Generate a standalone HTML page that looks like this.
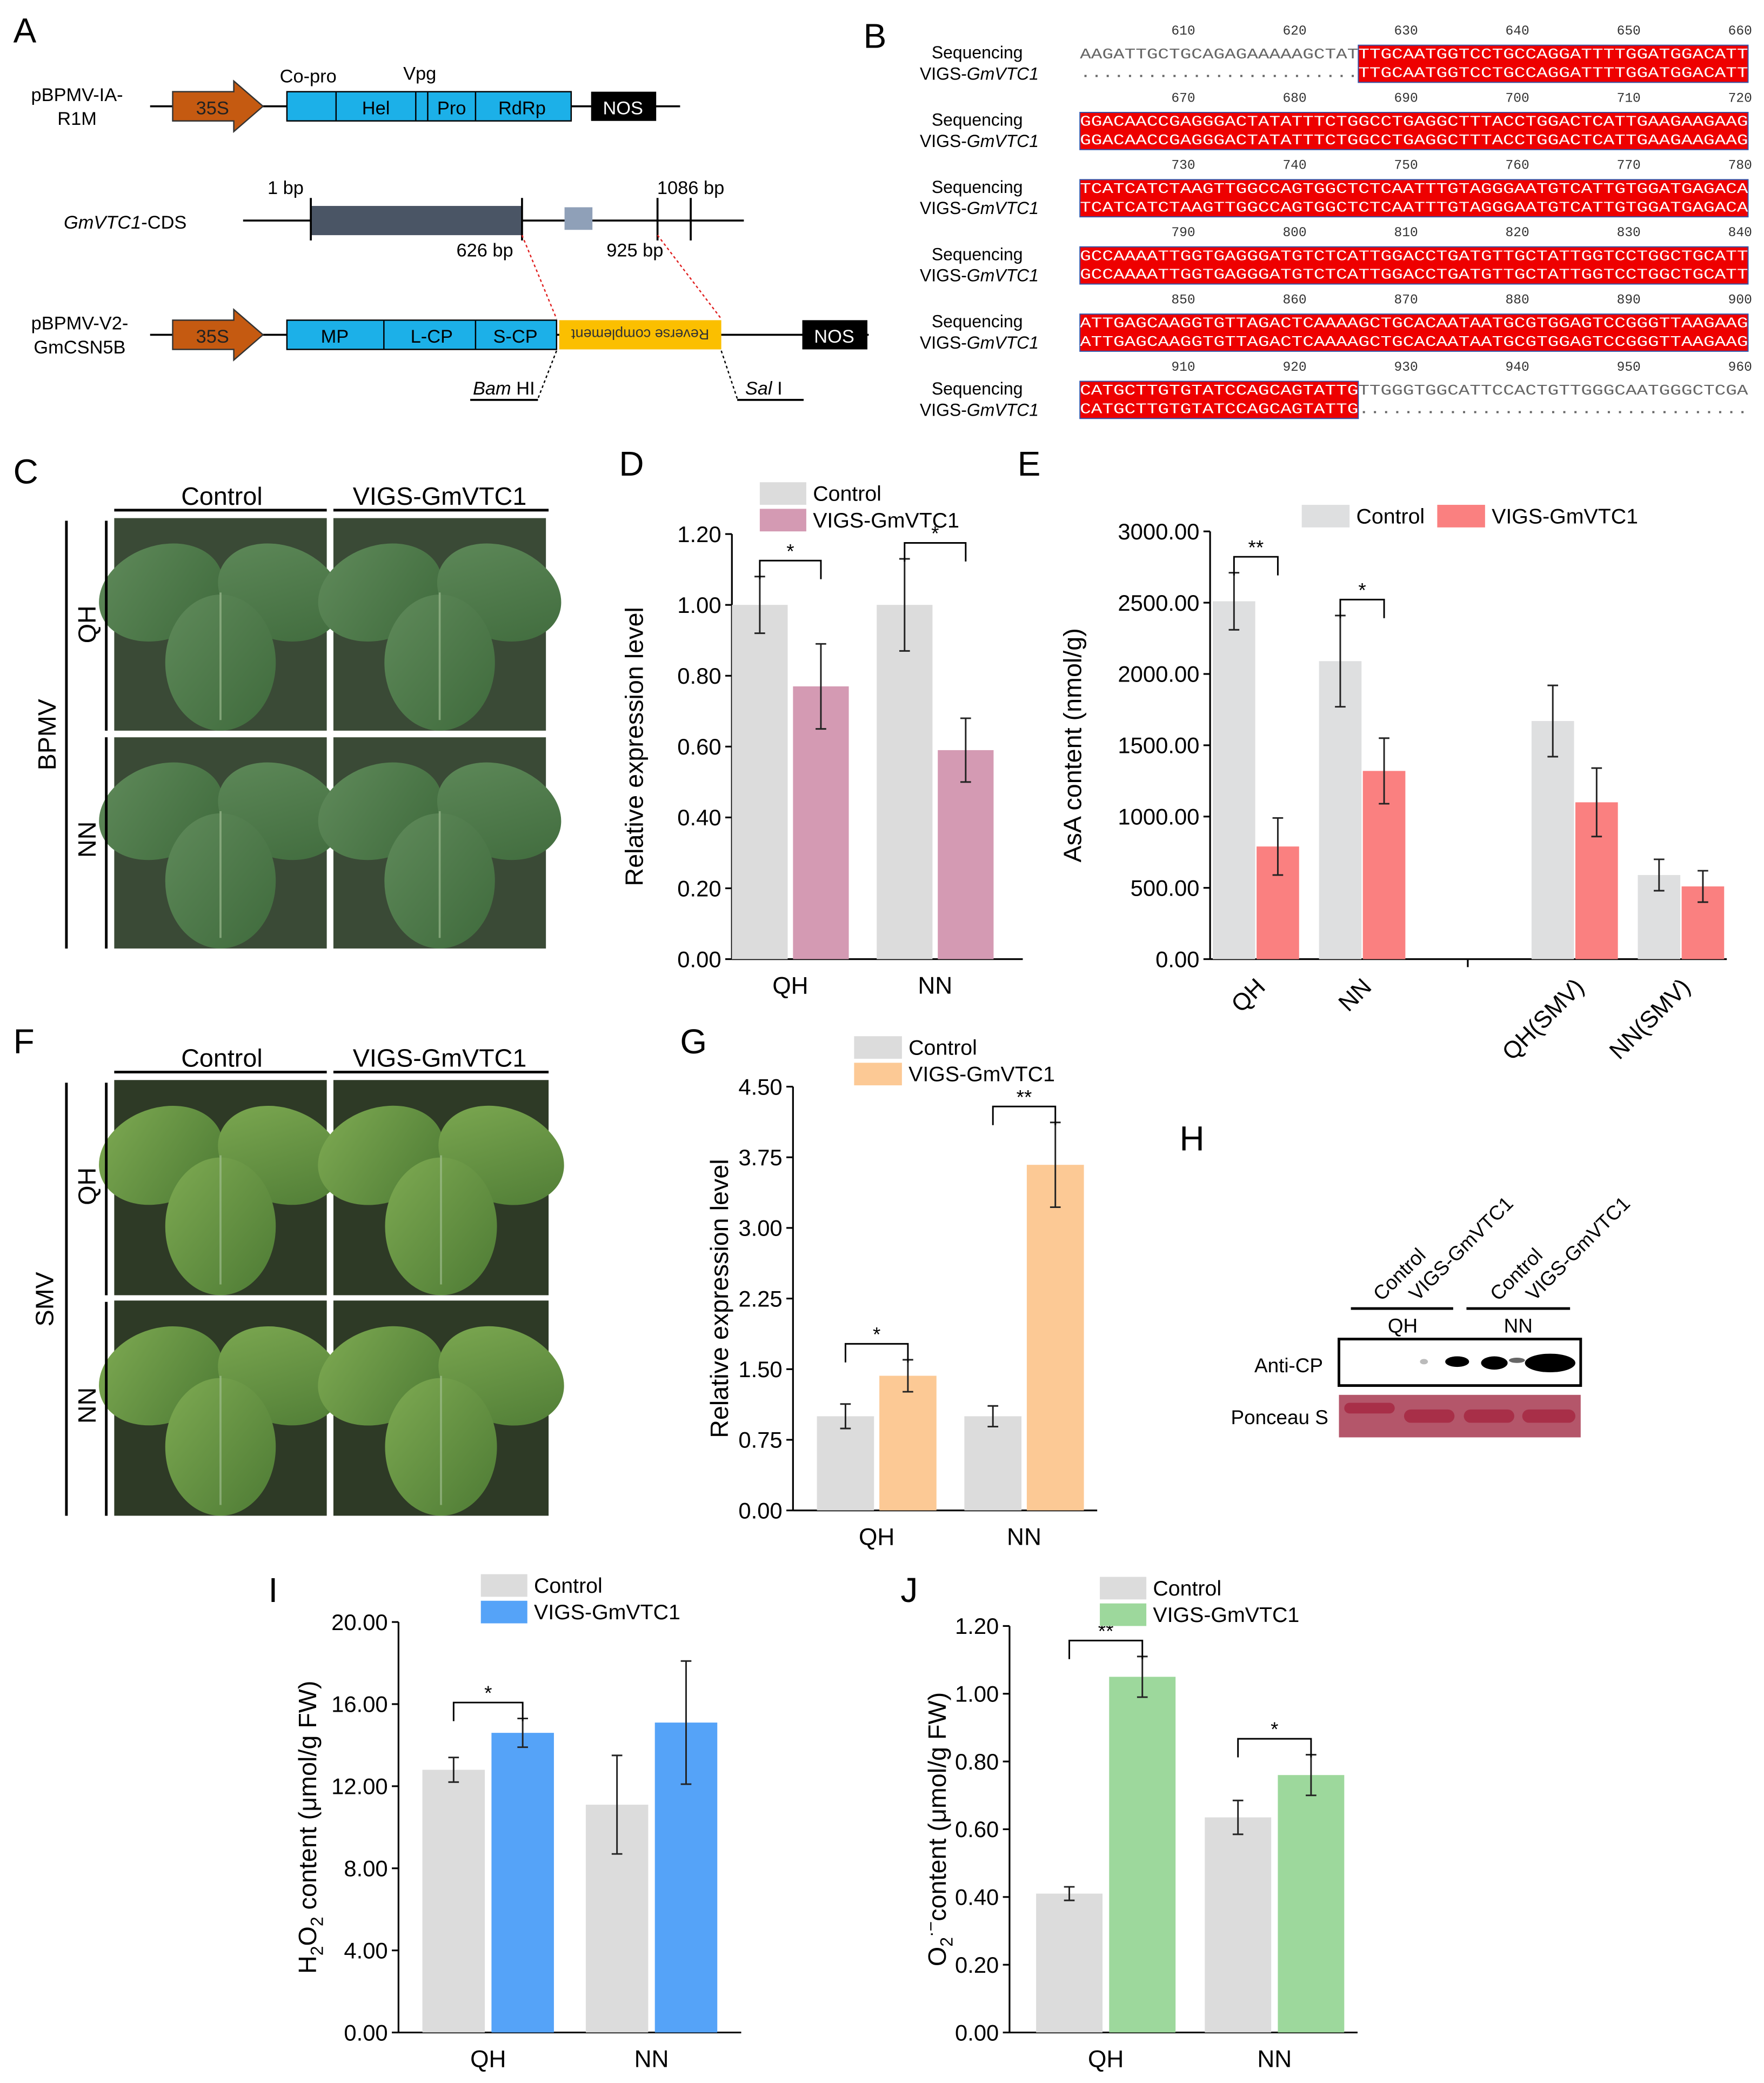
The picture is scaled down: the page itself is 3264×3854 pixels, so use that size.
<!DOCTYPE html>
<html><head><meta charset="utf-8"><style>
html,body{margin:0;padding:0;background:#fff}
svg{display:block;font-family:"Liberation Sans",sans-serif}
.mono{font-family:"Liberation Mono",monospace}
</style></head><body>
<svg id="fig" width="3264" height="3854" viewBox="0 0 1328 1568" xmlns="http://www.w3.org/2000/svg">
<rect width="1328" height="1568" fill="#fff"/>
<defs>
<linearGradient id="leafA" x1="0" y1="0" x2="1" y2="1"><stop offset="0" stop-color="#5f8a5a"/><stop offset="1" stop-color="#3f6a3c"/></linearGradient>
<linearGradient id="leafF" x1="0" y1="0" x2="1" y2="1"><stop offset="0" stop-color="#7eaa52"/><stop offset="1" stop-color="#4d7a34"/></linearGradient>
</defs>
<g font-size="26">
<text x="10" y="32">A</text><text x="650" y="36">B</text><text x="10" y="364">C</text><text x="466" y="358">D</text>
<text x="766" y="358">E</text><text x="10" y="793">F</text><text x="512" y="793">G</text><text x="888" y="866">H</text>
<text x="202" y="1206">I</text><text x="678" y="1206">J</text>
</g>

<g font-size="14">
<text x="58" y="76" text-anchor="middle">pBPMV-IA-</text><text x="58" y="94" text-anchor="middle">R1M</text>
<line x1="113" y1="80" x2="512" y2="80" stroke="#000" stroke-width="1.5"/>
<polygon points="130,69 176,69 176,61 198,80 176,99 176,91 130,91" fill="#c55a11" stroke="#333"/>
<text x="160" y="86" text-anchor="middle" fill="#222">35S</text>
<rect x="216" y="69" width="214" height="22" fill="#1cb0e8" stroke="#000"/>
<g stroke="#000"><line x1="253" y1="69" x2="253" y2="91"/><line x1="313" y1="69" x2="313" y2="91"/><line x1="322" y1="69" x2="322" y2="91"/><line x1="358" y1="69" x2="358" y2="91"/></g>
<text x="283" y="86" text-anchor="middle">Hel</text><text x="340" y="86" text-anchor="middle">Pro</text><text x="393" y="86" text-anchor="middle">RdRp</text>
<text x="232" y="62" text-anchor="middle">Co-pro</text><text x="316" y="60" text-anchor="middle">Vpg</text>
<rect x="445" y="69" width="49" height="22" fill="#000"/><text x="469" y="86" text-anchor="middle" fill="#fff">NOS</text>

<text x="48" y="172" font-style="italic">GmVTC1<tspan font-style="normal">-CDS</tspan></text>
<line x1="183" y1="166" x2="560" y2="166" stroke="#000" stroke-width="1.5"/>
<rect x="234" y="155" width="159" height="22" fill="#4a5565"/>
<rect x="425" y="156" width="21" height="17" fill="#8fa0b8"/>
<g stroke="#000" stroke-width="1.5"><line x1="234" y1="149" x2="234" y2="181"/><line x1="393" y1="149" x2="393" y2="181"/><line x1="495" y1="149" x2="495" y2="181"/><line x1="520" y1="149" x2="520" y2="181"/></g>
<text x="215" y="146" text-anchor="middle">1 bp</text><text x="520" y="146" text-anchor="middle">1086 bp</text>
<text x="365" y="193" text-anchor="middle">626 bp</text><text x="478" y="193" text-anchor="middle">925 bp</text>
<line x1="393" y1="177" x2="419" y2="240" stroke="#e02020" stroke-dasharray="2,2"/>
<line x1="495" y1="177" x2="543" y2="240" stroke="#e02020" stroke-dasharray="2,2"/>

<text x="60" y="248" text-anchor="middle">pBPMV-V2-</text><text x="60" y="266" text-anchor="middle">GmCSN5B</text>
<line x1="113" y1="252" x2="654" y2="252" stroke="#000" stroke-width="1.5"/>
<polygon points="130,241 176,241 176,233 198,252 176,271 176,263 130,263" fill="#c55a11" stroke="#333"/>
<text x="160" y="258" text-anchor="middle" fill="#222">35S</text>
<rect x="216" y="241" width="203" height="22" fill="#1cb0e8" stroke="#000"/>
<g stroke="#000"><line x1="289" y1="241" x2="289" y2="263"/><line x1="358" y1="241" x2="358" y2="263"/></g>
<text x="252" y="258" text-anchor="middle">MP</text><text x="325" y="258" text-anchor="middle">L-CP</text><text x="388" y="258" text-anchor="middle">S-CP</text>
<rect x="421" y="241" width="122" height="22" fill="#fbbf00"/>
<text transform="translate(482,252) rotate(180)" text-anchor="middle" dy="4" font-size="11" fill="#333">Reverse complement</text>
<rect x="604" y="241" width="49" height="22" fill="#000"/><text x="628" y="258" text-anchor="middle" fill="#fff">NOS</text>
<line x1="419" y1="264" x2="405" y2="300" stroke="#000" stroke-dasharray="2,2"/>
<line x1="543" y1="264" x2="555" y2="300" stroke="#000" stroke-dasharray="2,2"/>
<line x1="354" y1="301" x2="405" y2="301" stroke="#000" stroke-width="1.5"/><line x1="555" y1="301" x2="605" y2="301" stroke="#000" stroke-width="1.5"/>
<text x="356" y="297" font-style="italic">Bam<tspan font-style="normal"> HI</tspan></text>
<text x="561" y="297" font-style="italic">Sal<tspan font-style="normal"> I</tspan></text>
</g>

<g id="panelB"></g>
<g id="photos"></g>
<g id="charts"></g>

<g font-size="15">
<text transform="translate(1040,980) rotate(-45)">Control</text>
<text transform="translate(1067,980) rotate(-45)">VIGS-GmVTC1</text>
<text transform="translate(1128,980) rotate(-45)">Control</text>
<text transform="translate(1155,980) rotate(-45)">VIGS-GmVTC1</text>
<line x1="1017" y1="985" x2="1094" y2="985" stroke="#000" stroke-width="2"/><line x1="1104" y1="985" x2="1182" y2="985" stroke="#000" stroke-width="2"/>
<text x="1056" y="1003" text-anchor="middle">QH</text><text x="1143" y="1003" text-anchor="middle">NN</text>
<text x="996" y="1033" text-anchor="end">Anti-CP</text><text x="1000" y="1072" text-anchor="end">Ponceau S</text>
<rect x="1008" y="1008" width="182" height="35" fill="#fff" stroke="#000" stroke-width="2"/>
<ellipse cx="1072" cy="1025" rx="3" ry="2" fill="#bbb"/>
<ellipse cx="1097" cy="1025" rx="9" ry="4" fill="#000"/>
<ellipse cx="1125" cy="1026" rx="10" ry="5" fill="#000"/>
<ellipse cx="1142" cy="1024" rx="6" ry="2" fill="#666"/>
<ellipse cx="1167" cy="1026" rx="19" ry="7" fill="#000"/>
<rect x="1008" y="1050" width="182" height="32" fill="#b4566a"/>
<rect x="1012" y="1056" width="38" height="8" rx="4" fill="#a82f48"/>
<rect x="1057" y="1061" width="38" height="10" rx="5" fill="#a82f48"/>
<rect x="1102" y="1061" width="38" height="10" rx="5" fill="#a82f48"/>
<rect x="1146" y="1061" width="40" height="10" rx="5" fill="#a82f48"/>
</g>

<script>
const dCategories = ["QH","NN"];
const dControl = [1.00, 1.00];
const dControlErr = [0.08, 0.13];
const dVigs = [0.77, 0.59];
const dVigsErr = [0.12, 0.09];
const dSig = ["*","*"];
const dTicks = [0,0.2,0.4,0.6,0.8,1.0,1.2];

const eCategories = ["QH","NN","QH(SMV)","NN(SMV)"];
const eControl = [2510, 2090, 1670, 590];
const eControlErr = [200, 320, 250, 110];
const eVigs = [790, 1320, 1100, 510];
const eVigsErr = [200, 230, 240, 110];
const eSig = ["**","*",null,null];
const eTicks = [0,500,1000,1500,2000,2500,3000];

const gCategories = ["QH","NN"];
const gControl = [1.00, 1.00];
const gControlErr = [0.13, 0.11];
const gVigs = [1.43, 3.67];
const gVigsErr = [0.17, 0.45];
const gSig = ["*","**"];
const gTicks = [0,0.75,1.5,2.25,3.0,3.75,4.5];

const iCategories = ["QH","NN"];
const iControl = [12.8, 11.1];
const iControlErr = [0.6, 2.4];
const iVigs = [14.6, 15.1];
const iVigsErr = [0.7, 3.0];
const iSig = ["*",null];
const iTicks = [0,4,8,12,16,20];

const jCategories = ["QH","NN"];
const jControl = [0.41, 0.635];
const jControlErr = [0.02, 0.05];
const jVigs = [1.05, 0.76];
const jVigsErr = [0.06, 0.06];
const jSig = ["**","*"];
const jTicks = [0,0.2,0.4,0.6,0.8,1.0,1.2];

const NS="http://www.w3.org/2000/svg";
function el(parent, tag, attrs, text){
  const e=document.createElementNS(NS,tag);
  for(const k in attrs) e.setAttribute(k,attrs[k]);
  if(text!==undefined) e.textContent=text;
  parent.appendChild(e); return e;
}
function spans(t, parts){
  parts.forEach(p=>el(t,'tspan',p[1]||{},p[0]));
}

function barChart(name, L, cats, ctrl, ctrlErr, vigs, vigsErr, sig, ticks){
  const root=document.getElementById('charts');
  const g=el(root,'g',{});
  
  
  const max=ticks[ticks.length-1];
  const y=v=>L.y0-v/max*(L.y0-L.yTop);
  const ya=el(g,'line',{x1:L.ax,y1:L.y0,x2:L.ax,y2:L.yTop,stroke:'#000','stroke-width':1.3});
  
  
  const xa=el(g,'line',{x1:L.ax,y1:L.y0,x2:L.right,y2:L.y0,stroke:'#000','stroke-width':1.3});
  
  
  ticks.forEach(t=>{
    el(g,'line',{x1:L.ax-5,y1:y(t),x2:L.ax,y2:y(t),stroke:'#000','stroke-width':1.3});
    const tl=el(g,'text',{x:L.ax-8,y:y(t)+6,'text-anchor':'end','font-size':17},t.toFixed(2));
    
    
  });
  if(L.xTicks) L.xTicks.forEach(xx=>el(g,'line',{x1:xx,y1:L.y0,x2:xx,y2:L.y0+6,stroke:'#000','stroke-width':1.3}));
  cats.forEach((c,i)=>{
    const slot=L.slots?L.slots[i]:i;
    const x1=L.first+slot*L.spacing, x2=x1+L.bw+L.gap;
    const pairs=[[x1,ctrl[i],ctrlErr[i],L.c1,'control'],[x2,vigs[i],vigsErr[i],L.c2,'vigs']];
    pairs.forEach(([bx,v,e,col,s])=>{
      const r=el(g,'rect',{x:bx,y:y(v),width:L.bw,height:L.y0-y(v),fill:col});
      
      
      const cx=bx+L.bw/2;
      el(g,'line',{x1:cx,y1:y(v+e),x2:cx,y2:y(v-e),stroke:'#222','stroke-width':1.2});
      el(g,'line',{x1:cx-4,y1:y(v+e),x2:cx+4,y2:y(v+e),stroke:'#222','stroke-width':1.2});
      el(g,'line',{x1:cx-4,y1:y(v-e),x2:cx+4,y2:y(v-e),stroke:'#222','stroke-width':1.2});
    });
    if(sig[i]){
      const top=Math.min(y(ctrl[i]+ctrlErr[i]),y(vigs[i]+vigsErr[i]));
      const by=top-12;
      const c1=x1+L.bw/2,c2=x2+L.bw/2;
      el(g,'polyline',{points:`${c1},${by+14} ${c1},${by} ${c2},${by} ${c2},${by+14}`,fill:'none',stroke:'#000','stroke-width':1.2});
      el(g,'text',{x:(c1+c2)/2,y:by-2,'text-anchor':'middle','font-size':15},sig[i]);
    }
    const cx=(x1+x2+L.bw)/2;
    let lab;
    if(L.rotate) lab=el(g,'text',{transform:`translate(${cx+8},${L.y0+22}) rotate(-45)`,'text-anchor':'end','font-size':18},c);
    else lab=el(g,'text',{x:cx,y:L.y0+26,'text-anchor':'middle','font-size':18},c);
    
    
  });
  const t=el(g,'text',{transform:`translate(${L.tx},${(L.y0+L.yTop)/2}) rotate(-90)`,'text-anchor':'middle','font-size':19});
  spans(t,L.title);
  
  
  const lg=L.legend;
  [[L.c1,'Control'],[L.c2,'VIGS-GmVTC1']].forEach(([col,txt],k)=>{
    const lx=lg.horiz? lg.x+k*lg.dx : lg.x;
    const ly=lg.horiz? lg.y : lg.y+k*20;
    el(g,'rect',{x:lx,y:ly,width:lg.w,height:17,fill:col});
    const lt=el(g,'text',{x:lx+lg.w+5,y:ly+14,'font-size':16},txt);
    
    
  });
}

barChart('chart-d',{ax:551,right:770,y0:722,yTop:402,first:551,spacing:109,bw:42,gap:4,c1:'#dcdcdc',c2:'#d49ab3',tx:484,
  title:[['Relative expression level']],legend:{x:572,y:363,w:35}},dCategories,dControl,dControlErr,dVigs,dVigsErr,dSig,dTicks);
barChart('chart-e',{ax:911,right:1300,y0:722,yTop:400,first:913,spacing:80,slots:[0,1,3,4],bw:32,gap:1,c1:'#dedfe0',c2:'#fa8080',tx:814,rotate:true,xTicks:[1105],
  title:[['AsA content (nmol/g)']],legend:{x:980,y:380,w:36,horiz:true,dx:102}},eCategories,eControl,eControlErr,eVigs,eVigsErr,eSig,eTicks);
barChart('chart-g',{ax:597,right:826,y0:1137,yTop:818,first:615,spacing:111,bw:43,gap:4,c1:'#dcdcdc',c2:'#fcc995',tx:548,
  title:[['Relative expression level']],legend:{x:643,y:780,w:36}},gCategories,gControl,gControlErr,gVigs,gVigsErr,gSig,gTicks);
barChart('chart-i',{ax:300,right:558,y0:1530,yTop:1221,first:318,spacing:123,bw:47,gap:5,c1:'#dcdcdc',c2:'#55a3f8',tx:238,
  title:[['H'],['2',{'font-size':13,dy:5}],['O',{dy:-5}],['2',{'font-size':13,dy:5}],[' content (μmol/g FW)',{dy:-5}]],legend:{x:362,y:1185,w:35}},iCategories,iControl,iControlErr,iVigs,iVigsErr,iSig,iTicks);
barChart('chart-j',{ax:760,right:1022,y0:1530,yTop:1224,first:780,spacing:127,bw:50,gap:5,c1:'#dcdcdc',c2:'#9dd89c',tx:712,
  title:[['O'],['2',{'font-size':13,dy:5}],['·−',{'font-size':13,dy:-12}],['content (μmol/g FW)',{dy:7}]],legend:{x:828,y:1187,w:35}},jCategories,jControl,jControlErr,jVigs,jVigsErr,jSig,jTicks);

const seqs=[
 ["AAGATTGCTGCAGAGAAAAAGCTAT","TTGCAATGGTCCTGCCAGGATTTTGGATGGACATT",""],
 ["","GGACAACCGAGGGACTATATTTCTGGCCTGAGGCTTTACCTGGACTCATTGAAGAAGAAG",""],
 ["","TCATCATCTAAGTTGGCCAGTGGCTCTCAATTTGTAGGGAATGTCATTGTGGATGAGACA",""],
 ["","GCCAAAATTGGTGAGGGATGTCTCATTGGACCTGATGTTGCTATTGGTCCTGGCTGCATT",""],
 ["","ATTGAGCAAGGTGTTAGACTCAAAAGCTGCACAATAATGCGTGGAGTCCGGGTTAAGAAG",""],
 ["","CATGCTTGTGTATCCAGCAGTATTG","TTGGGTGGCATTCCACTGTTGGGCAATGGGCTCGA"]];
(function(){
  const B=document.getElementById('panelB');
  const x0=813, cw=503/60;
  seqs.forEach((s,b)=>{
    const oy=b*50.6;
    el(B,'text',{x:770,y:44+oy,'text-anchor':'end','font-size':13},'Sequencing');
    const lab2=el(B,'text',{x:782,y:60+oy,'text-anchor':'end','font-size':13});
    spans(lab2,[['VIGS-'],['GmVTC1',{'font-style':'italic'}]]);
    for(let k=1;k<=6;k++){
      el(B,'text',{x:x0+k*10*cw-6,y:26+oy,'text-anchor':'middle','font-size':10,class:'mono',fill:'#333'},String(600+b*60+k*10));
    }
    let pos=0;
    const pre=s[0], red=s[1], post=s[2];
    if(pre.length){
      el(B,'text',{x:x0,y:44+oy,'font-size':11,class:'mono',fill:'#666',textLength:pre.length*cw,lengthAdjust:'spacingAndGlyphs'},pre);
      el(B,'text',{x:x0,y:58+oy,'font-size':11,class:'mono',fill:'#666',textLength:pre.length*cw,lengthAdjust:'spacingAndGlyphs'},'.'.repeat(pre.length));
      pos=pre.length;
    }
    const rx=x0+pos*cw;
    const rr=el(B,'rect',{x:rx,y:34+oy,width:red.length*cw,height:28,fill:'#ee0000',stroke:'#3355aa','stroke-width':0.8});
    
    
    el(B,'text',{x:rx,y:44+oy,'font-size':11,class:'mono',fill:'#fff',textLength:red.length*cw,lengthAdjust:'spacingAndGlyphs'},red);
    el(B,'text',{x:rx,y:58+oy,'font-size':11,class:'mono',fill:'#fff',textLength:red.length*cw,lengthAdjust:'spacingAndGlyphs'},red);
    if(post.length){
      const px=rx+red.length*cw;
      el(B,'text',{x:px,y:44+oy,'font-size':11,class:'mono',fill:'#666',textLength:post.length*cw,lengthAdjust:'spacingAndGlyphs'},post);
      el(B,'text',{x:px,y:58+oy,'font-size':11,class:'mono',fill:'#666',textLength:post.length*cw,lengthAdjust:'spacingAndGlyphs'},'.'.repeat(post.length));
    }
  });
})();

(function(){
  const P=document.getElementById('photos');
  function photo(x,y,w,h,grad,bg,name){
    const g=el(P,'g',{});
    
    
    el(g,'rect',{x,y,width:w,height:h,fill:bg});
    const cx=x+w/2, cy=y+h*0.35;
    el(g,'ellipse',{cx:cx-w*0.28,cy:cy,rx:w*0.3,ry:h*0.22,fill:`url(#${grad})`,transform:`rotate(-20 ${cx-w*0.28} ${cy})`});
    el(g,'ellipse',{cx:cx+w*0.28,cy:cy,rx:w*0.3,ry:h*0.22,fill:`url(#${grad})`,transform:`rotate(20 ${cx+w*0.28} ${cy})`});
    el(g,'ellipse',{cx:cx,cy:y+h*0.68,rx:w*0.26,ry:h*0.32,fill:`url(#${grad})`});
    el(g,'line',{x1:cx,y1:cy,x2:cx,y2:y+h*0.95,stroke:'#a8c49a','stroke-width':1.5,opacity:0.6});
  }
  function grid(xs,ys,grad,bg,pre){
    xs.forEach((xx,i)=>ys.forEach((yy,j)=>photo(xx[0],yy[0],xx[1]-xx[0],yy[1]-yy[0],grad,bg,pre+'-'+(j?'nn':'qh')+'-'+(i?'vigs':'control'))));
  }
  grid([[86,246],[251,411]],[[390,550],[555,714]],'leafA','#3a4a36','photo-bpmv');
  grid([[86,246],[251,413]],[[813,975],[979,1141]],'leafF','#2e3a26','photo-smv');
  function labels(oy,y1,y2,ymid,virus,qy,ny,vx){
    el(P,'text',{x:167,y:oy,'text-anchor':'middle','font-size':19},'Control');
    el(P,'text',{x:331,y:oy,'text-anchor':'middle','font-size':19},'VIGS-GmVTC1');
    el(P,'line',{x1:86,y1:oy+4,x2:246,y2:oy+4,stroke:'#000','stroke-width':2});
    el(P,'line',{x1:251,y1:oy+4,x2:413,y2:oy+4,stroke:'#000','stroke-width':2});
    el(P,'line',{x1:50,y1:y1,x2:50,y2:y2,stroke:'#000','stroke-width':2});
    el(P,'line',{x1:80,y1:y1,x2:80,y2:ymid-2,stroke:'#000','stroke-width':2});
    el(P,'line',{x1:80,y1:ymid+3,x2:80,y2:y2,stroke:'#000','stroke-width':2});
    el(P,'text',{transform:`translate(${vx},${(y1+y2)/2}) rotate(-90)`,'text-anchor':'middle','font-size':19},virus);
    el(P,'text',{transform:`translate(72,${qy}) rotate(-90)`,'text-anchor':'middle','font-size':19},'QH');
    el(P,'text',{transform:`translate(72,${ny}) rotate(-90)`,'text-anchor':'middle','font-size':19},'NN');
  }
  labels(380,392,714,552,'BPMV',470,632,42);
  labels(803,815,1141,977,'SMV',893,1058,40);
})();
</script>
</svg>
</body></html>
